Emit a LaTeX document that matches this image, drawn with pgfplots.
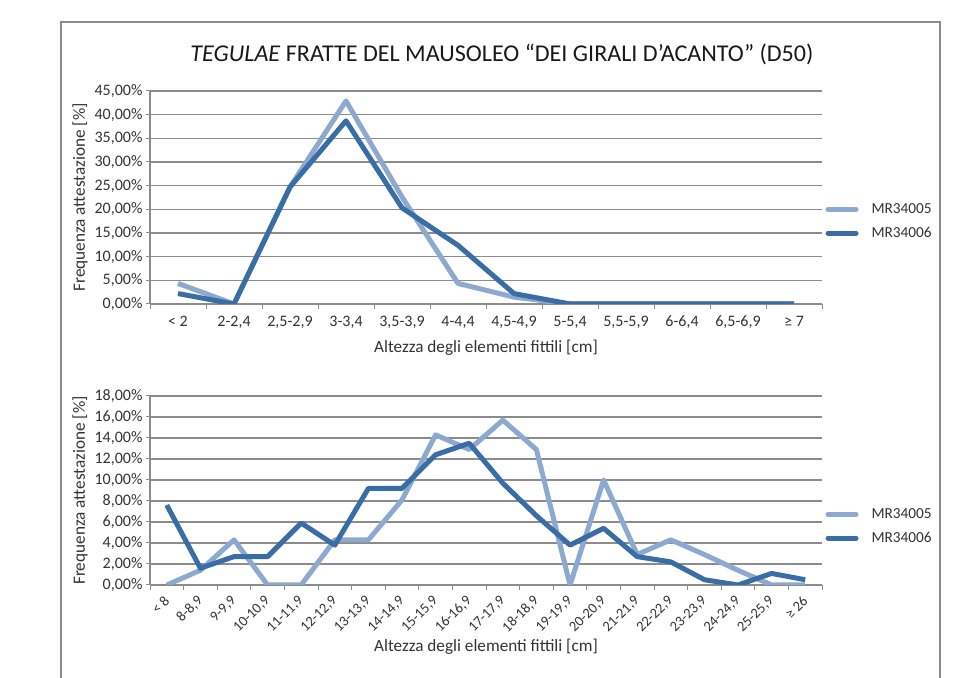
\documentclass[border=0pt]{standalone}
\usepackage{pgfplots}
\pgfplotsset{compat=1.18}
\usepackage{fontspec}
\setmainfont{Carlito}
\definecolor{lightser}{RGB}{141,169,208}
\definecolor{darkser}{RGB}{56,109,166}
\definecolor{gridc}{RGB}{140,140,140}

\pgfplotstableread{
x a b
0 4.35 2.2
1 0 0
2 24.7 24.7
3 42.9 38.7
4 22.6 20.3
5 4.35 12.4
6 1.45 2.2
7 0 0
8 0 0
9 0 0
10 0 0
11 0 0
}\topdata

\pgfplotstableread{
x a b
0 0 7.6
1 1.4 1.6
2 4.3 2.7
3 0 2.7
4 0 5.9
5 4.3 3.8
6 4.3 9.2
7 8.1 9.2
8 14.3 12.4
9 12.9 13.5
10 15.7 9.7
11 12.9 6.6
12 0 3.8
13 10.0 5.4
14 2.9 2.7
15 4.3 2.2
16 2.9 0.5
17 1.4 0
18 0 1.1
19 0 0.5
}\botdata

\pgfplotsset{
  mystyle/.style={
    scale only axis,
    width=672bp,
    axis x line*=bottom,
    axis y line*=left,
    axis line style={gridc, line width=1.2bp},
    ymajorgrids,
    grid style={gridc, line width=1.2bp},
    tick align=outside,
    major tick length=4bp,
    minor tick length=5bp,
    tick style={gridc, line width=1bp},
    xtick style={draw=none},
    minor x tick style={gridc, line width=1bp, draw=gridc},
    /pgf/number format/assume math mode=true,
    ymin=0,
    yticklabel={\pgfmathprintnumber[fixed,fixed zerofill,precision=2,use comma]{\tick}\%},
    ticklabel style={font=\fontsize{16bp}{19bp}\selectfont, text=black!80},
    label style={font=\fontsize{17.2bp}{20bp}\selectfont, text=black!80},
    ylabel={Frequenza attestazione [\%]},
    ylabel style={at={(axis description cs:-0.1042,0.5)}, anchor=center},
    legend style={draw=none, fill=none, font=\fontsize{15.3bp}{18bp}\selectfont, text=black!80,
      row sep=8bp, inner sep=0pt, cells={anchor=west},
      /tikz/every odd column/.append style={column sep=11bp}},
    legend image code/.code={\draw[##1, line width=5bp, line cap=round] (0bp,0bp) -- (28bp,0bp);},
    every axis plot/.append style={line width=5bp, line join=round, mark=none},
  }
}

\begin{document}
\begin{tikzpicture}[x=1bp,y=1bp]
\path[use as bounding box] (0,0) rectangle (969,678);
\draw[gridc, line width=1.3bp] (61,-10) -- (61,656) -- (940,656) -- (940,-10);
\node[font=\fontsize{24.1bp}{29bp}\selectfont, text=black!90] at (502,624) {\textit{TEGULAE} FRATTE DEL MAUSOLEO “DEI GIRALI D’ACANTO” (D50)};

\begin{axis}[mystyle,
  at={(150bp,587bp)}, anchor=north west,
  height=213bp,
  ymax=45, ytick={0,5,...,45},
  xmin=-0.5, xmax=11.5,
  xtick={0,...,11},
  minor xtick={-0.5,0.5,...,11.5},
  xticklabels={< 2,{2-2,4},{2,5-2,9},{3-3,4},{3,5-3,9},{4-4,4},{4,5-4,9},{5-5,4},{5,5-5,9},{6-6,4},{6,5-6,9},≥ 7},
  xticklabel style={yshift=-4.5bp},
  xlabel={Altezza degli elementi fittili [cm]},
  xlabel style={at={(axis description cs:0.5,-0.2066)}, anchor=center},
  legend style={at={(rel axis cs:1.005,0.387)}, anchor=west},
]
\addplot[lightser] table[x=x,y=a]{\topdata};
\addplot[darkser] table[x=x,y=b]{\topdata};
\legend{MR34005,MR34006}
\end{axis}

\begin{axis}[mystyle,
  at={(150bp,282bp)}, anchor=north west,
  height=189bp,
  ymax=18, ytick={0,2,...,18},
  xmin=-0.5, xmax=19.5,
  xtick={0,...,19},
  minor xtick={-0.5,0.5,...,19.5},
  xticklabels={< 8,{8-8,9},{9-9,9},{10-10,9},{11-11,9},{12-12,9},{13-13,9},{14-14,9},{15-15,9},{16-16,9},{17-17,9},{18-18,9},{19-19,9},{20-20,9},{21-21,9},{22-22,9},{23-23,9},{24-24,9},{25-25,9},≥ 26},
  xticklabel style={font=\fontsize{14.5bp}{17bp}\selectfont, xshift=2.5bp, yshift=-7bp, rotate=45, anchor=east},
  xlabel={Altezza degli elementi fittili [cm]},
  xlabel style={at={(axis description cs:0.5,-0.328)}, anchor=center},
  legend style={at={(rel axis cs:1.005,0.31)}, anchor=west},
]
\addplot[lightser] table[x=x,y=a]{\botdata};
\addplot[darkser] table[x=x,y=b]{\botdata};
\legend{MR34005,MR34006}
\end{axis}
\end{tikzpicture}
\end{document}
